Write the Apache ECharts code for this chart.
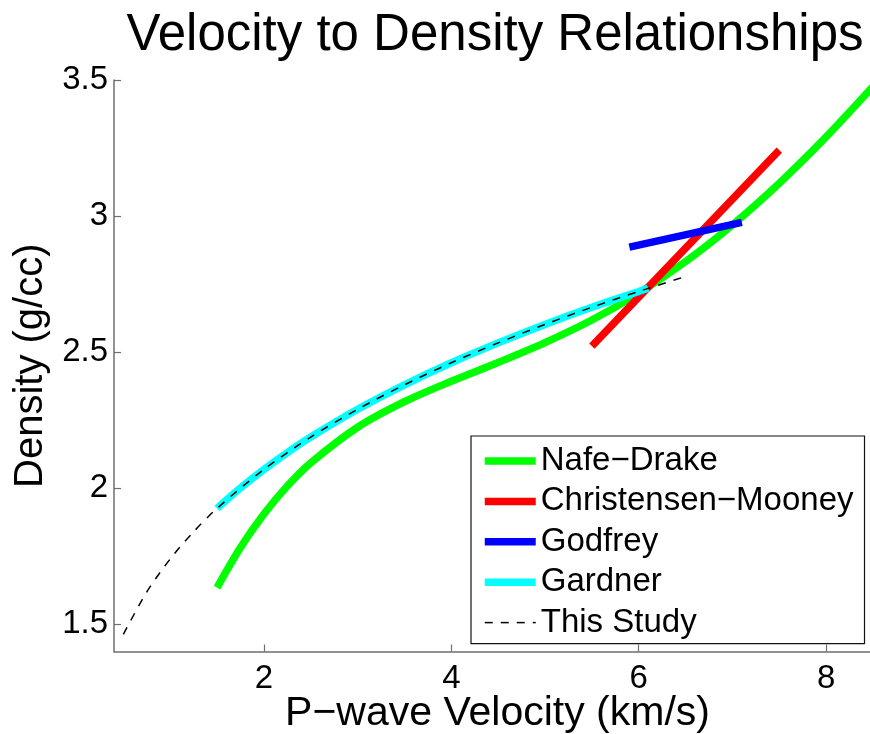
<!DOCTYPE html>
<html>
<head>
<meta charset="utf-8">
<script src="https://cdn.jsdelivr.net/npm/echarts@6/dist/echarts.min.js"></script>
<style>html,body{margin:0;padding:0;background:#fff;}#c{width:870px;height:734px;}</style>
</head>
<body>
<div id="c"></div>
<script>
var FONT = '"Liberation Sans", Arial, Helvetica, sans-serif';
var seriesNames = ['Nafe\u2212Drake', 'Christensen\u2212Mooney', 'Godfrey', 'Gardner', 'This Study'];
var xTicks = [2, 4, 6, 8];
var yTicks = [1.5, 2, 2.5, 3, 3.5];

var nafeDrake = [
  [1.5, 1.635], [1.75, 1.782], [2.0, 1.905], [2.25, 2.008], [2.5, 2.093],
  [3.0, 2.224], [3.5, 2.318], [4.0, 2.393], [4.5, 2.462], [5.0, 2.535],
  [5.5, 2.618], [6.0, 2.717], [6.5, 2.833], [7.0, 2.968], [7.5, 3.121],
  [8.0, 3.291], [8.5, 3.476]
];
var christensenMooney = [[5.5, 2.522], [7.5, 3.242]];
var godfrey = [[5.9, 2.886], [7.1, 2.977]];
var gardner = [
  [1.5, 1.926], [1.75, 2.001], [2.0, 2.069], [2.25, 2.131], [2.5, 2.188],
  [3.0, 2.290], [3.5, 2.380], [4.0, 2.461], [4.5, 2.534], [5.0, 2.602],
  [5.5, 2.665], [6.0, 2.723], [6.1, 2.735]
];
var thisStudy = [
  [0.5, 1.463], [0.75, 1.619], [1.0, 1.740], [1.25, 1.840], [1.5, 1.926],
  [2.0, 2.069], [2.5, 2.188], [3.0, 2.290], [3.5, 2.380], [4.0, 2.461],
  [4.5, 2.534], [5.0, 2.602], [5.5, 2.665], [6.0, 2.723], [6.5, 2.778]
];

var colors = ['#00ff00', '#ff0000', '#0000ff', '#00ffff', '#000000'];
var dataSets = [nafeDrake, christensenMooney, godfrey, gardner, thisStudy];

var chart = echarts.init(document.getElementById('c'), null, {renderer: 'canvas'});

var series = dataSets.map(function (d, i) {
  var dashed = i === 4;
  return {
    name: seriesNames[i],
    type: 'line',
    data: d,
    smooth: d.length > 2 ? 0.3 : false,
    symbol: 'none',
    showSymbol: false,
    animation: false,
    z: 2 + i,
    lineStyle: {
      color: colors[i],
      width: dashed ? 1.5 : 7.5,
      type: dashed ? [8, 8] : 'solid',
      cap: 'butt'
    },
    itemStyle: {color: colors[i]}
  };
});

var axisColor = '#6e6e6e';

chart.setOption({
  animation: false,
  backgroundColor: '#ffffff',
  title: {
    text: 'Velocity to Density Relationships',
    left: 490,
    textAlign: 'center',
    top: 5,
    textStyle: {fontFamily: FONT, fontSize: 51, fontWeight: 'normal', color: '#000'}
  },
  grid: {left: 114, top: 80, width: 759, height: 571.5, containLabel: false, outerBoundsMode: 'none'},
  legend: {
    orient: 'vertical',
    left: 471,
    top: 436,
    padding: [5, 11, 1, 10],
    borderColor: '#111',
    borderWidth: 1.2,
    backgroundColor: '#fff',
    itemWidth: 51,
    itemHeight: 14,
    itemGap: 0.4,
    lineStyle: {width: 'inherit'},
    itemStyle: {opacity: 0},
    textStyle: {fontFamily: FONT, fontSize: 33, color: '#000', lineHeight: 40},
    data: seriesNames
  },
  xAxis: {
    type: 'value',
    min: 0.4,
    max: 8.5,
    name: 'P\u2212wave Velocity (km/s)',
    nameLocation: 'middle',
    nameGap: 42,
    nameMoveOverlap: false,
    nameTextStyle: {fontFamily: FONT, fontSize: 41, color: '#000', padding: [0, 0, 0, 8]},
    axisLine: {show: true, onZero: false, lineStyle: {color: axisColor, width: 1.5}},
    axisTick: {show: true, inside: true, length: 7, customValues: xTicks, lineStyle: {color: axisColor, width: 1.2}},
    axisLabel: {show: true, margin: 11, customValues: xTicks, fontFamily: FONT, fontSize: 33, color: '#000'},
    splitLine: {show: false}
  },
  yAxis: {
    type: 'value',
    min: 1.4,
    max: 3.5,
    name: 'Density (g/cc)',
    nameLocation: 'middle',
    nameGap: 60,
    nameTextStyle: {fontFamily: FONT, fontSize: 40, color: '#000'},
    axisLine: {show: true, onZero: false, lineStyle: {color: axisColor, width: 1.5}},
    axisTick: {show: true, inside: true, length: 7, customValues: yTicks, lineStyle: {color: axisColor, width: 1.2}},
    axisLabel: {show: true, margin: 6, customValues: yTicks, fontFamily: FONT, fontSize: 33, color: '#000'},
    splitLine: {show: false}
  },
  series: series
});
</script>
</body>
</html>
